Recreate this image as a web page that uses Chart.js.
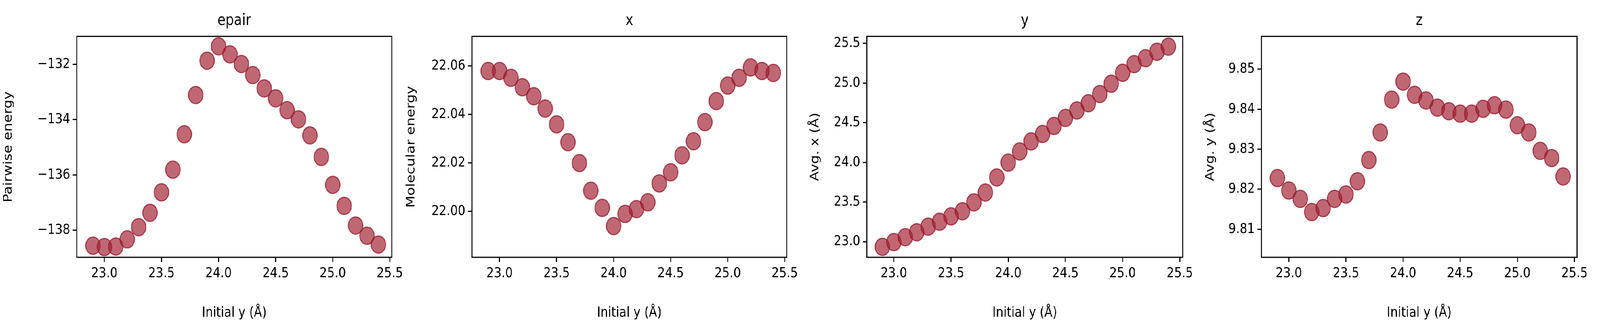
<!DOCTYPE html>
<html>
<head>
<meta charset="utf-8">
<script src="https://cdn.jsdelivr.net/npm/chart.js@4"></script>
<style>
  html, body { margin: 0; padding: 0; background: #fff; overflow: hidden; }
  #wrap { width: 4858px; height: 826px; position: relative; transform-origin: 0 0; }
  canvas { position: absolute; top: 0; }
</style>
</head>
<body>
<div id="wrap">
<canvas id="c0"></canvas>
<canvas id="c1"></canvas>
<canvas id="c2"></canvas>
<canvas id="c3"></canvas>
</div>
<script>
const initialY = [22.9, 23.0, 23.1, 23.2, 23.3, 23.4, 23.5, 23.6, 23.7, 23.8, 23.9, 24.0, 24.1,
                  24.2, 24.3, 24.4, 24.5, 24.6, 24.7, 24.8, 24.9, 25.0, 25.1, 25.2, 25.3, 25.4];
const epair = [-138.56, -138.61, -138.59, -138.33, -137.89, -137.37, -136.63, -135.81, -134.53,
               -133.11, -131.87, -131.35, -131.64, -131.99, -132.39, -132.87, -133.23, -133.66,
               -133.99, -134.57, -135.35, -136.36, -137.12, -137.83, -138.20, -138.52];
const molX = [22.0579, 22.0579, 22.0551, 22.0512, 22.0475, 22.0424, 22.0359, 22.0285, 22.0199,
              22.0085, 22.0014, 21.9939, 21.9989, 22.0009, 22.0037, 22.0115, 22.0161, 22.0231,
              22.0289, 22.0368, 22.0455, 22.0519, 22.0551, 22.0594, 22.0579, 22.0571];
const avgX = [22.935, 22.995, 23.057, 23.119, 23.190, 23.252, 23.319, 23.384, 23.496, 23.620,
              23.810, 23.997, 24.137, 24.264, 24.358, 24.459, 24.560, 24.654, 24.745, 24.861,
              24.991, 25.129, 25.238, 25.313, 25.394, 25.459];
const avgY = [9.8228, 9.8197, 9.8176, 9.8143, 9.8153, 9.8176, 9.8187, 9.8220, 9.8273, 9.8342,
              9.8424, 9.8469, 9.8436, 9.8422, 9.8404, 9.8395, 9.8389, 9.8389, 9.8401, 9.8410,
              9.8399, 9.8360, 9.8342, 9.8296, 9.8278, 9.8232];

const xTicks = [23.0, 23.5, 24.0, 24.5, 25.0, 25.5];
const epairTicks = [-138, -136, -134, -132];
const molXTicks = [22.00, 22.02, 22.04, 22.06];
const avgXTicks = [23.0, 23.5, 24.0, 24.5, 25.0, 25.5];
const avgYTicks = [9.81, 9.82, 9.83, 9.84, 9.85];

const panels = [
  { id: 'c0', title: 'epair', ylabel: 'Pairwise energy', data: epair, yticks: epairTicks, dec: 0,
    left: 233, right: 1192, xmin: 22.758, xmax: 25.517, ymin: -138.98, ymax: -130.99, yw: 233 },
  { id: 'c1', title: 'x', ylabel: 'Molecular energy', data: molX, yticks: molXTicks, dec: 2,
    left: 1433, right: 2391, xmin: 22.758, xmax: 25.517, ymin: 21.981, ymax: 22.0722, yw: 210 },
  { id: 'c2', title: 'y', ylabel: 'Avg. x (Å)', data: avgX, yticks: avgXTicks, dec: 1,
    left: 2632, right: 3591, xmin: 22.764, xmax: 25.525, ymin: 22.803, ymax: 25.588, yw: 182 },
  { id: 'c3', title: 'z', ylabel: 'Avg. y (Å)', data: avgY, yticks: avgYTicks, dec: 2,
    left: 3830, right: 4789, xmin: 22.760, xmax: 25.522, ymin: 9.8030, ymax: 9.8582, yw: 180 }
];

const FONT = 'DejaVu Sans';
const TOP = 93, BOTTOM = 658, H = 826;

// fit the 4858x826 layout into whatever viewport we actually get
const wrap = document.getElementById('wrap');
const sx = (window.innerWidth || 4858) / 4858, sy = (window.innerHeight || 826) / 826;
wrap.style.transform = 'scale(' + sx + ',' + sy + ')';

// box around the plot area plus the panel title
const frame = {
  id: 'frame',
  afterDraw(chart, args, opts) {
    const a = chart.chartArea, ctx = chart.ctx;
    ctx.save();
    ctx.strokeStyle = '#000';
    ctx.lineWidth = 3;
    ctx.strokeRect(a.left, a.top, a.right - a.left, a.bottom - a.top);
    ctx.fillStyle = '#000';
    ctx.font = '40px "' + FONT + '"';
    ctx.textAlign = 'center';
    ctx.textBaseline = 'alphabetic';
    ctx.fillText(opts.text, (a.left + a.right) / 2, 64);
    ctx.restore();
  }
};

panels.forEach(p => {
  const cv = document.getElementById(p.id);
  const w = p.yw + (p.right - p.left) + 40;
  cv.width = w; cv.height = H;
  cv.style.left = (p.left - p.yw) + 'px';
  new Chart(cv, {
    type: 'scatter',
    data: {
      datasets: [{
        data: initialY.map((x, i) => ({ x: x, y: p.data[i] })),
        backgroundColor: 'rgba(160, 32, 48, 0.68)',
        borderColor: 'rgba(150, 20, 40, 0.75)',
        borderWidth: 3,
        pointRadius: 22,
        pointHoverRadius: 22
      }]
    },
    options: {
      responsive: false,
      animation: false,
      devicePixelRatio: 1,
      layout: { padding: { top: TOP, right: 40, left: 0, bottom: 0 } },
      plugins: { legend: { display: false }, tooltip: { enabled: false }, frame: { text: p.title } },
      scales: {
        x: {
          type: 'linear', min: p.xmin, max: p.xmax,
          afterBuildTicks: s => { s.ticks = xTicks.map(v => ({ value: v })); },
          afterFit: s => { s.height = H - BOTTOM; },
          border: { display: false },
          grid: { drawOnChartArea: false, color: '#000', lineWidth: 3, tickLength: 12, tickWidth: 3 },
          ticks: { color: '#000', font: { family: FONT, size: 36 }, padding: 8, maxRotation: 0,
                   callback: v => v.toFixed(1) },
          title: { display: true, text: 'Initial y (Å)', color: '#000', font: { family: FONT, size: 36 }, padding: { top: 16 } }
        },
        y: {
          type: 'linear', min: p.ymin, max: p.ymax,
          afterBuildTicks: s => { s.ticks = p.yticks.map(v => ({ value: v })); },
          afterFit: s => { s.width = p.yw; },
          border: { display: false },
          grid: { drawOnChartArea: false, color: '#000', lineWidth: 3, tickLength: 12, tickWidth: 3 },
          ticks: { color: '#000', font: { family: FONT, size: 36 }, padding: 8,
                   callback: v => v.toFixed(p.dec).replace('-', '\u2212') },
          title: { display: true, text: p.ylabel, color: '#000', font: { family: FONT, size: 36 }, padding: { bottom: 10 } }
        }
      }
    },
    plugins: [frame]
  });
});
</script>
</body>
</html>
